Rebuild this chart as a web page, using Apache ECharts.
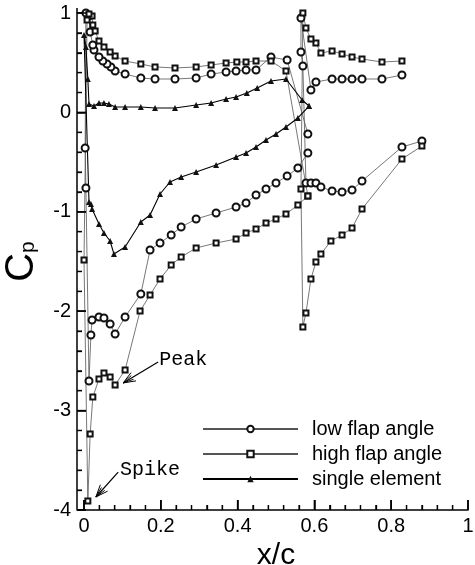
<!DOCTYPE html>
<html><head><meta charset="utf-8">
<script src="https://cdn.jsdelivr.net/npm/echarts@6/dist/echarts.min.js"></script>
<style>html,body{margin:0;padding:0;background:#fff}#c{width:475px;height:565px}</style>
</head><body><div id="c"></div>
<script>
// ---- data (x/c, Cp) ----
const lowMainX = [0.583,0.529,0.487,0.448,0.422,0.396,0.370,0.331,0.292,0.237,0.185,0.148,0.107,0.081,0.070,0.060,0.049,0.039,0.026,0.023,0.016,0.013,0.005,
  0.003,0.005,0.013,0.018,0.021,0.039,0.052,0.068,0.081,0.107,0.148,0.172,0.198,0.227,0.253,0.292,0.344,0.396,0.422,0.448,0.474,0.500,0.529,0.557,0.583];
const lowMainY = [-0.217,0.527,0.557,0.427,0.427,0.417,0.406,0.386,0.346,0.336,0.336,0.346,0.386,0.417,0.457,0.487,0.517,0.557,0.628,0.678,0.809,0.970,1.000,
  -0.358,-0.761,-2.702,-2.239,-2.089,-2.058,-2.068,-2.129,-2.229,-2.058,-1.827,-1.384,-1.314,-1.233,-1.153,-1.072,-1.012,-0.952,-0.911,-0.831,-0.771,-0.710,-0.640,-0.559,-0.408];
const lowFlapX = [0.828,0.776,0.724,0.698,0.672,0.646,0.604,0.591,0.565,0.565,0.570,0.578,0.591,0.604,0.617,0.646,0.672,0.698,0.724,0.828,0.880];
const lowFlapY = [0.376,0.336,0.336,0.336,0.336,0.336,0.306,0.225,0.950,0.608,0.467,-0.710,-0.710,-0.710,-0.750,-0.791,-0.801,-0.781,-0.690,-0.348,-0.288];
const highMainX = [0.583,0.526,0.487,0.448,0.422,0.398,0.370,0.331,0.292,0.237,0.185,0.148,0.107,0.081,0.068,0.052,0.039,0.029,0.023,0.021,0.013,0.008,
  0.000,0.010,0.016,0.023,0.039,0.052,0.068,0.081,0.107,0.146,0.172,0.198,0.227,0.253,0.292,0.344,0.396,0.422,0.448,0.474,0.500,0.526,0.557,0.583];
const highMainY = [-0.841,0.417,0.517,0.517,0.507,0.507,0.497,0.477,0.457,0.447,0.457,0.487,0.517,0.567,0.608,0.658,0.718,0.819,0.879,0.970,0.990,0.930,
  -1.485,-3.909,-3.235,-2.863,-2.682,-2.622,-2.662,-2.742,-2.592,-1.998,-1.837,-1.676,-1.535,-1.455,-1.364,-1.314,-1.274,-1.213,-1.173,-1.113,-1.072,-1.022,-0.932,-0.841];
const highFlapX = [0.828,0.776,0.724,0.698,0.672,0.646,0.617,0.604,0.591,0.578,0.570,0.565,0.570,0.578,0.591,0.604,0.617,0.643,0.672,0.698,0.724,0.828,0.880];
const highFlapY = [0.517,0.507,0.537,0.557,0.588,0.618,0.598,0.698,0.738,0.849,1.000,-0.771,-2.159,-2.018,-1.676,-1.505,-1.425,-1.294,-1.233,-1.163,-0.972,-0.469,-0.338];
const singleX = [0.586,0.568,0.526,0.487,0.451,0.424,0.396,0.370,0.331,0.292,0.237,0.185,0.148,0.107,0.081,0.065,0.052,0.039,0.026,0.013,0.010,0.005,0.000,
  0.013,0.018,0.021,0.039,0.052,0.068,0.078,0.107,0.148,0.172,0.198,0.224,0.253,0.292,0.344,0.396,0.422,0.448,0.474,0.500,0.526,0.557,0.586];
const singleY = [0.064,0.125,0.336,0.316,0.245,0.195,0.155,0.135,0.095,0.074,0.044,0.044,0.054,0.054,0.054,0.085,0.095,0.095,0.064,0.085,0.336,0.658,0.779,
  -0.901,-0.922,-0.972,-1.123,-1.213,-1.294,-1.425,-1.354,-1.103,-1.032,-0.821,-0.700,-0.650,-0.600,-0.529,-0.449,-0.408,-0.348,-0.278,-0.217,-0.147,-0.056,0.064];
const seriesNames = ['low flap angle','high flap angle','single element'];
// annotations: text and arrow (data coordinates)
const annoText = ['Peak','Spike'];
const annoTextX = [0.196, 0.094];
const annoTextY = [-2.49, -3.59];
const arrowFromX = [0.193, 0.089];
const arrowFromY = [-2.511, -3.618];
const arrowToX = [0.102, 0.031];
const arrowToY = [-2.722, -3.869];

const FONT = "'Liberation Sans', Arial, Helvetica, sans-serif";
const MONO = "'Courier New', 'Liberation Mono', monospace";
const Y_OFFSET = 7;
const zip = (xs, ys) => xs.map((x, i) => [x, ys[i]]);

function mk(name, xs, ys, symbol, size, lw, col, bw) {
  return {
    name: name, type: 'line', data: zip(xs, ys),
    symbol: symbol, symbolSize: size, clip: false,
    lineStyle: {color: col, width: lw},
    itemStyle: {color: '#111', borderColor: '#111', borderWidth: bw},
    emphasis: {disabled: true}, z: 3
  };
}

const chart = echarts.init(document.getElementById('c'), null, {renderer: 'canvas'});
const option = {
  animation: false,
  backgroundColor: '#fff',
  grid: {left: 84, right: 7, top: 13, bottom: 55, containLabel: false, outerBoundsMode: 'none'},
  legend: {
    data: seriesNames, orient: 'vertical', left: 197, top: 414,
    itemWidth: 95, itemHeight: 8, itemGap: 5,
    textStyle: {fontFamily: FONT, fontSize: 20, color: '#000', padding: [0,0,0,9], lineHeight: 20},
    selectedMode: false
  },
  xAxis: {
    type: 'value', min: 0, max: 1, interval: 0.2,
    name: 'x/c', nameLocation: 'middle', nameGap: 18,
    nameTextStyle: {fontFamily: FONT, fontSize: 30, color: '#000'},
    axisLine: {show: true, onZero: false, lineStyle: {color: '#000', width: 1.5}},
    axisTick: {show: true, inside: true, length: 10, lineStyle: {color: '#000', width: 1.5}},
    minorTick: {show: true, splitNumber: 5, length: 5, lineStyle: {color: '#000', width: 1.3}},
    axisLabel: {fontFamily: FONT, fontSize: 20, color: '#000', margin: 6},
    splitLine: {show: true, lineStyle: {opacity: 0}}
  },
  yAxis: {
    type: 'value', min: -4, max: 1, interval: 1, offset: Y_OFFSET,
    name: '{c|C}{p|p}', nameLocation: 'middle', nameRotate: 90, nameGap: 26,
    nameTextStyle: {color: '#000', rich: {
      c: {fontFamily: FONT, fontSize: 40, color: '#000'},
      p: {fontFamily: FONT, fontSize: 21, color: '#000', verticalAlign: 'bottom', padding: [0,0,4,0]}
    }},
    axisLine: {show: true, onZero: false, lineStyle: {color: '#000', width: 1.5}},
    axisTick: {show: true, inside: true, length: 9, lineStyle: {color: '#000', width: 1.5}},
    minorTick: {show: true, splitNumber: 5, length: 5, lineStyle: {color: '#000', width: 1.3}},
    axisLabel: {fontFamily: FONT, fontSize: 20, color: '#000', margin: 6},
    splitLine: {show: true, lineStyle: {opacity: 0}}
  },
  series: [
    mk(seriesNames[0], lowMainX, lowMainY, 'emptyCircle', 7, 0.8, '#555', 0.8),
    mk(seriesNames[0], lowFlapX, lowFlapY, 'emptyCircle', 7, 0.8, '#555', 0.8),
    mk(seriesNames[1], highMainX, highMainY, 'emptyRect', 5, 0.8, '#555', 0.8),
    mk(seriesNames[1], highFlapX, highFlapY, 'emptyRect', 5, 0.8, '#555', 0.8),
    mk(seriesNames[2], singleX, singleY, 'triangle', 6, 1.1, '#000', 0)
  ]
};
chart.setOption(option);

// annotations, inward tick marks (from axis scale) and small axis extensions
const toPx = (x, y) => chart.convertToPixel({xAxisIndex: 0, yAxisIndex: 0}, [x, y]);
const g = [];
for (let i = 0; i < annoText.length; i++) {
  const t = toPx(annoTextX[i], annoTextY[i]);
  g.push({type: 'text', x: t[0], y: t[1], style: {text: annoText[i], font: '20px ' + MONO, fill: '#000', textVerticalAlign: 'middle', textAlign: 'left'}, z: 10});
  const a = toPx(arrowFromX[i], arrowFromY[i]);
  const b = toPx(arrowToX[i], arrowToY[i]);
  g.push({type: 'line', shape: {x1: a[0], y1: a[1], x2: b[0], y2: b[1]}, style: {stroke: '#000', lineWidth: 1.2}, z: 10});
  const dx = a[0] - b[0], dy = a[1] - b[1], L = Math.hypot(dx, dy);
  const ux = dx / L, uy = dy / L;
  [-0.38, 0.38, -0.2, 0.2].forEach(function (ang, k) {
    const len = k < 2 ? 13 : 11;
    const c = Math.cos(ang), s = Math.sin(ang);
    const rx = ux * c - uy * s, ry = ux * s + uy * c;
    g.push({type: 'line', shape: {x1: b[0], y1: b[1], x2: b[0] + rx * len, y2: b[1] + ry * len}, style: {stroke: '#000', lineWidth: 1}, z: 10});
  });
}
// ticks: 5 minor steps per major interval on both axes
for (let k = 0; k <= 25; k++) {
  const major = k % 5 === 0;
  const px = toPx(k * 0.04, -4);
  const lx = major ? 10 : 5;
  g.push({type: 'line', shape: {x1: px[0], y1: px[1], x2: px[0], y2: px[1] - lx}, style: {stroke: '#000', lineWidth: major ? 1.5 : 1.2}, z: 5});
  const py = toPx(0, -4 + k * 0.2);
  const ly = major ? 9 : 5;
  const ax = py[0] - Y_OFFSET;
  g.push({type: 'line', shape: {x1: ax, y1: py[1], x2: ax + ly, y2: py[1]}, style: {stroke: '#000', lineWidth: major ? 1.5 : 1.2}, z: 5});
}
const o = toPx(0, -4), top1 = toPx(0, 1);
g.push({type: 'line', shape: {x1: o[0] - Y_OFFSET, y1: o[1], x2: o[0], y2: o[1]}, style: {stroke: '#000', lineWidth: 1.5}});
g.push({type: 'line', shape: {x1: top1[0] - Y_OFFSET, y1: top1[1], x2: top1[0] - Y_OFFSET, y2: top1[1] - 5}, style: {stroke: '#000', lineWidth: 1.5}});
chart.setOption({graphic: g});
</script>
</body></html>
